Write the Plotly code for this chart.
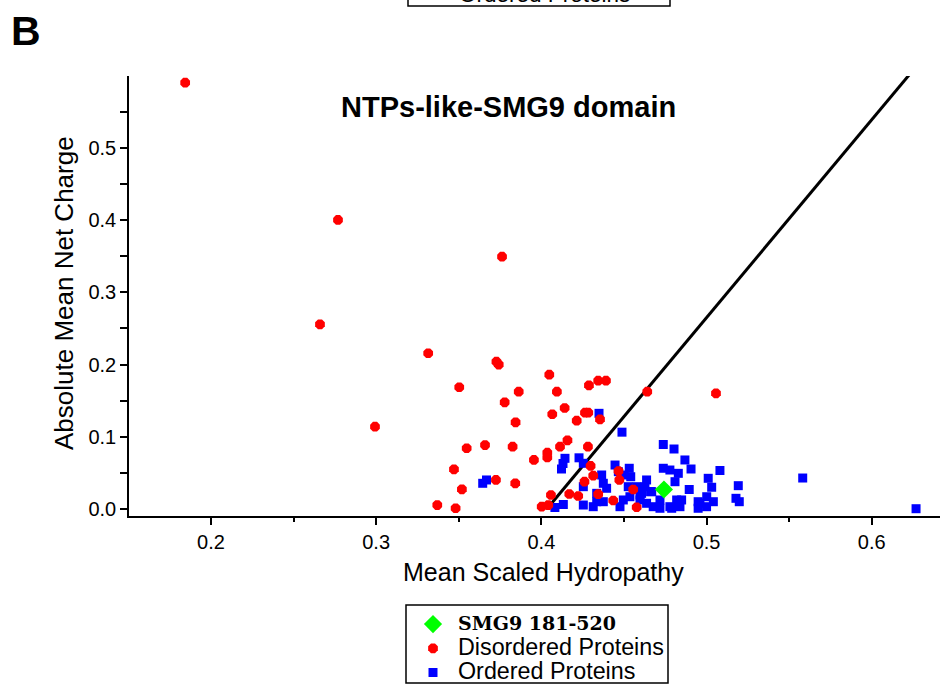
import plotly.graph_objects as go

# ---------------- data ----------------
dis_x = [0.1844, 0.2769, 0.3762, 0.2660, 0.3315, 0.3728, 0.3742, 0.3503, 0.2993, 0.4048,
         0.3863, 0.4094, 0.4288, 0.4344, 0.4391, 0.4641, 0.5057, 0.3778, 0.4141, 0.4066,
         0.4264, 0.4284, 0.4214, 0.4355, 0.3844, 0.4158, 0.4113, 0.4282, 0.4036, 0.4036,
         0.3955, 0.3826, 0.3548, 0.3659, 0.3471, 0.3725, 0.3842, 0.3519, 0.3370, 0.3481,
         0.4298, 0.4314, 0.4261, 0.4467, 0.4472, 0.4556, 0.4344, 0.4169, 0.4223, 0.4058,
         0.4435, 0.4577, 0.4042, 0.4002]
dis_y = [0.5904, 0.4003, 0.3494, 0.2558, 0.2157, 0.2040, 0.2000, 0.1686, 0.1140, 0.1860,
         0.1625, 0.1625, 0.1713, 0.1777, 0.1777, 0.1625, 0.1602, 0.1478, 0.1399, 0.1312,
         0.1334, 0.1334, 0.1223, 0.1242, 0.1201, 0.0951, 0.0863, 0.0863, 0.0780, 0.0713,
         0.0679, 0.0863, 0.0841, 0.0886, 0.0550, 0.0402, 0.0356, 0.0273, 0.0055, 0.0010,
         0.0596, 0.0461, 0.0378, 0.0526, 0.0402, 0.0270, 0.0205, 0.0208, 0.0180, 0.0194,
         0.0118, 0.0024, 0.0055, 0.0032]

ord_x = [0.3645, 0.3668, 0.4349, 0.4488, 0.4143, 0.4131, 0.4122, 0.4228, 0.4254, 0.4082,
         0.4133, 0.4738, 0.4803, 0.4869, 0.4906, 0.5081, 0.5192, 0.5178, 0.5198, 0.5582,
         0.6268, 0.5010, 0.5031, 0.5001, 0.4960, 0.5041, 0.4895, 0.4849, 0.4839, 0.4738,
         0.4778, 0.4829, 0.4809, 0.4637, 0.4627, 0.4668, 0.4532, 0.4541, 0.4526, 0.4536,
         0.4446, 0.4466, 0.4365, 0.4375, 0.4395, 0.4335, 0.4254, 0.4314, 0.4335, 0.4476,
         0.4496, 0.4597, 0.4637, 0.4677, 0.4718, 0.4778, 0.4819, 0.4949, 0.4949, 0.5000,
         0.4577, 0.4607, 0.4718, 0.4789, 0.4254, 0.4501, 0.4375, 0.4597, 0.4661]
ord_y = [0.0356, 0.0402, 0.1325, 0.1064, 0.0702, 0.0630, 0.0554, 0.0709, 0.0633, 0.0021,
         0.0062, 0.0893, 0.0831, 0.0679, 0.0554, 0.0533, 0.0323, 0.0148, 0.0101, 0.0429,
         0.0004, 0.0425, 0.0301, 0.0170, 0.0079, 0.0101, 0.0270, 0.0125, 0.0032, 0.0564,
         0.0540, 0.0494, 0.0378, 0.0402, 0.0309, 0.0240, 0.0564, 0.0447, 0.0309, 0.0170,
         0.0609, 0.0517, 0.0471, 0.0356, 0.0287, 0.0217, 0.0055, 0.0032, 0.0101, 0.0032,
         0.0125, 0.0125, 0.0079, 0.0032, 0.0010, 0.0032, 0.0125, 0.0101, 0.0010, 0.0032,
         0.0309, 0.0217, 0.0125, 0.0010, 0.0309, 0.0471, 0.0101, 0.0194, 0.0240]

smg9_x = [0.4742]
smg9_y = [0.0270]

boundary_x = [0.4033, 0.6231]
boundary_y = [0.0000, 0.6025]

x_ticks = [0.2, 0.3, 0.4, 0.5, 0.6]
x_tick_labels = ["0.2", "0.3", "0.4", "0.5", "0.6"]
y_ticks = [0.0, 0.1, 0.2, 0.3, 0.4, 0.5]
y_tick_labels = ["0.0", "0.1", "0.2", "0.3", "0.4", "0.5"]

SANS = "Liberation Sans, Arial, sans-serif"
SERIF = "DejaVu Serif, Liberation Serif, serif"

# figure geometry (pixels)
W, H = 940, 684
L, R, T, B = 129, 0, 76, 168
PW, PH = W - L - R, H - T - B


def px(xpix):
    return (xpix - L) / PW


def py(ypix):
    return (H - B - ypix) / PH


fig = go.Figure()

fig.add_trace(go.Scatter(
    x=boundary_x, y=boundary_y, mode="lines",
    line=dict(color="black", width=3), showlegend=False, hoverinfo="skip"))

fig.add_trace(go.Scatter(
    x=ord_x, y=ord_y, mode="markers",
    name="<span style='font-size:23.3px'>Ordered Proteins</span>",
    marker=dict(symbol="square", size=9, color="#0000FF", line=dict(width=0)),
    legendrank=3, cliponaxis=False))

fig.add_trace(go.Scatter(
    x=dis_x, y=dis_y, mode="markers",
    name="<span style='font-size:23.3px'>Disordered Proteins</span>",
    marker=dict(symbol="octagon", size=10.5, color="#FF0000", line=dict(width=0)),
    legendrank=2, cliponaxis=False))

fig.add_trace(go.Scatter(
    x=smg9_x, y=smg9_y, mode="markers",
    name="<span style='font-family:DejaVu Serif, Liberation Serif, serif;font-size:19px'><b>SMG9 181-520</b></span>",
    marker=dict(symbol="diamond", size=14, color="#00FF00", line=dict(width=0)),
    legendrank=1, cliponaxis=False))

axis_common = dict(
    showgrid=False, zeroline=False, showline=True, linecolor="black", linewidth=1.5,
    ticks="outside", tickcolor="black", tickwidth=1.5, ticklen=7,
    tickfont=dict(family=SANS, size=20, color="black"),
)

fig.update_xaxes(
    range=[0.1504, 0.6413], tickvals=x_ticks, ticktext=x_tick_labels,
    minor=dict(dtick=0.05, tick0=0.0, ticks="outside", ticklen=4, tickcolor="black", tickwidth=1.5),
    **axis_common)
fig.update_yaxes(
    range=[-0.0097, 0.5997], tickvals=y_ticks, ticktext=y_tick_labels,
    minor=dict(dtick=0.05, tick0=0.0, ticks="outside", ticklen=7, tickcolor="black", tickwidth=1.5),
    **axis_common)

fig.update_layout(
    width=W, height=H,
    margin=dict(l=L, r=R, t=T, b=B, autoexpand=False),
    plot_bgcolor="white", paper_bgcolor="white",
    font=dict(family=SANS, color="black"),
    legend=dict(
        x=px(408), y=py(607), xanchor="left", yanchor="top",
        borderwidth=0, bgcolor="rgba(0,0,0,0)",
        font=dict(family=SANS, size=16.3, color="black"),
        itemwidth=40, itemclick=False,
    ),
    annotations=[
        dict(text="<b>NTPs-like-SMG9 domain</b>", xref="paper", yref="paper",
             x=px(508), y=py(107), xanchor="center", yanchor="middle",
             showarrow=False, font=dict(family=SANS, size=29, color="black")),
        dict(text="<b>B</b>", xref="paper", yref="paper",
             x=px(9), y=py(31), xanchor="left", yanchor="middle",
             showarrow=False, font=dict(family=SANS, size=41, color="black")),
        dict(text="Mean Scaled Hydropathy", xref="paper", yref="paper",
             x=px(543), y=py(572), xanchor="center", yanchor="middle",
             showarrow=False, font=dict(family=SANS, size=25, color="black")),
        dict(text="Absolute Mean Net Charge", xref="paper", yref="paper",
             x=px(64), y=py(293), xanchor="center", yanchor="middle",
             textangle=-90, showarrow=False, font=dict(family=SANS, size=26, color="black")),
        dict(text="Ordered Proteins", xref="paper", yref="paper",
             x=px(457), y=py(-6), xanchor="left", yanchor="middle",
             showarrow=False, font=dict(family=SANS, size=22.5, color="black")),
    ],
    shapes=[
        # clipped legend box of the panel above
        dict(type="rect", xref="paper", yref="paper",
             x0=px(408), x1=px(670), y0=py(6), y1=py(-40),
             line=dict(color="black", width=1.5), fillcolor="rgba(0,0,0,0)"),
        # legend frame
        dict(type="rect", xref="paper", yref="paper",
             x0=px(406), x1=px(668), y0=py(683), y1=py(605),
             line=dict(color="black", width=1.5), fillcolor="rgba(0,0,0,0)"),
    ],
)

fig.write_html("out.html", config={"displayModeBar": False},
               post_script="document.body.style.margin='0px';")
